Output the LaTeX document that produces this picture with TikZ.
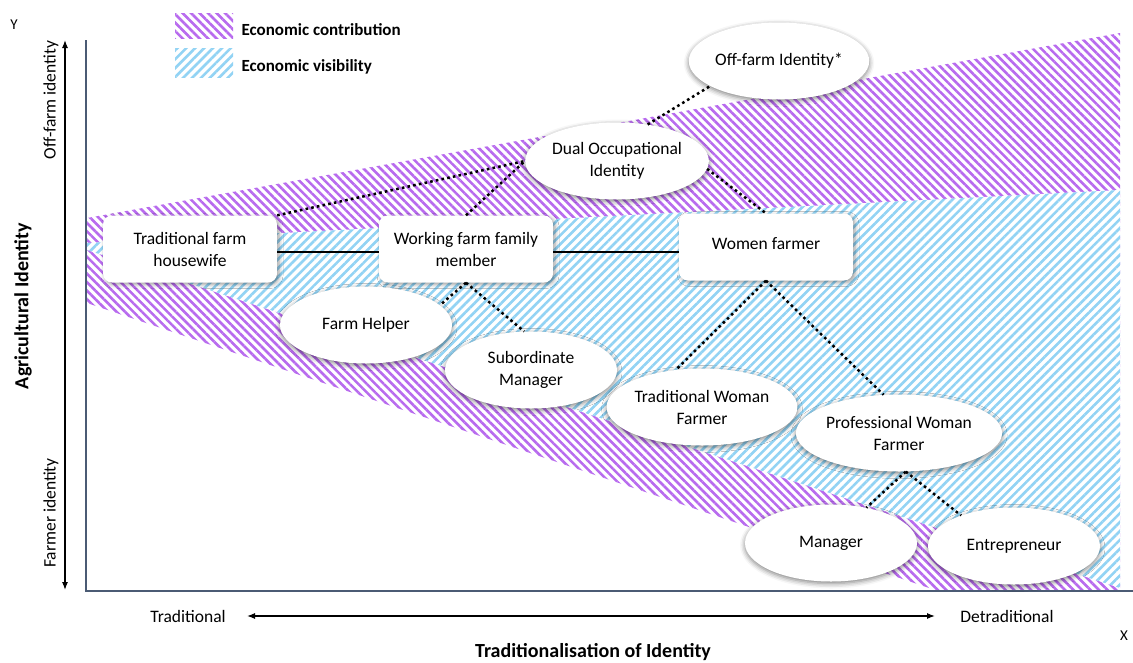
\documentclass[tikz,border=0pt]{standalone}
\usepackage{fontspec}
\setmainfont{Carlito}
\usepackage{xcolor}
\usepackage{tikz}
\usetikzlibrary{arrows.meta,positioning,shapes.geometric,patterns.meta,shadows.blur}

\definecolor{contrib}{HTML}{B86BEE}
\definecolor{visib}{HTML}{92D3F4}
\definecolor{axiscol}{HTML}{4B5B74}

\tikzset{
  contribfill/.style={pattern={Lines[angle=-45,distance=6pt,line width=2.6pt]}, pattern color=contrib},
  visibfill/.style={preaction={fill=white}, pattern={Lines[angle=45,distance=6.3pt,line width=2.6pt]}, pattern color=visib},
  wbox/.style={rectangle, rounded corners=9pt, fill=white, minimum width=174pt, minimum height=67pt,
    align=center, font=\fontsize{17.5}{22}\selectfont,
    blur shadow={shadow xshift=2pt, shadow yshift=-2pt, shadow blur radius=4pt, shadow opacity=40}},
  bubble/.style={ellipse, fill=white, minimum width=172pt, minimum height=77pt, inner sep=0pt,
    align=center, font=\fontsize{17.5}{22}\selectfont,
    blur shadow={shadow xshift=0pt, shadow yshift=-2pt, shadow blur radius=5pt, shadow opacity=50}},
  dotlink/.style={line width=2.5pt, dash pattern=on 2.6pt off 3.2pt},
  solidlink/.style={line width=1.3pt},
  axisline/.style={axiscol, line width=2.6pt},
  dirarrow/.style={{Latex[length=8pt,width=6pt]}-{Latex[length=8pt,width=6pt]}, line width=1.2pt},
  lab/.style={font=\fontsize{17.5}{20}\selectfont},
  boldlab/.style={font=\fontsize{20}{24}\selectfont\bfseries},
}

\begin{document}
\begin{tikzpicture}[x=1pt,y=-1pt]
\useasboundingbox (0,0) rectangle (1133,662);

% Bands
\path[contribfill] (87,218) -- (1120,33) -- (1120,590) -- (935,590) -- (87,303) -- cycle;
\path[visibfill] (87,243) -- (1120,190) -- (1120,588) -- (87,250) -- cycle;

% Legend
\path[contribfill] (175,13) rectangle (233,38);
\path[visibfill] (175,48) rectangle (233,77);
\node[font=\fontsize{17}{20}\selectfont\bfseries, anchor=west] (contriblab) at (238,30) {Economic contribution};
\node[font=\fontsize{17}{20}\selectfont\bfseries, anchor=west] (visiblab) at (238,67) {Economic visibility};

% Axes
\draw[axisline] (86,40) -- (86,591) -- (1133,591);
\node[font=\fontsize{15}{18}\selectfont] (ylab) at (14,25) {Y};
\node[font=\fontsize{15}{18}\selectfont] (xlab) at (1124,636) {X};

% Vertical direction
\coordinate (ytop) at (65,40);
\coordinate (ybot) at (65,590);
\draw[dirarrow] (ybot) -- (ytop);
\node[lab, rotate=90] (offlab) at (51,100) {Off-farm identity};
\node[lab, rotate=90] (farmlab) at (51,513) {Farmer identity};
\node[boldlab, rotate=90] (agrilab) at (23,306) {Agricultural Identity};

% Horizontal direction
\node[lab] (tradlab) at (188,616) {Traditional};
\node[lab] (detradlab) at (1007,616) {Detraditional};
\coordinate (xleft) at (247,616);
\coordinate (xright) at (935,616);
\draw[dirarrow] (xleft) -- (xright);
\node[boldlab] (tradtitle) at (593,652) {Traditionalisation of Identity};

% Identities
\node[wbox] (housewife) at (190,249) {Traditional farm\\housewife};
\node[wbox] (wffm) at (466,249) {Working farm family\\member};
\node[wbox] (women) at (766,247) {\raisebox{7pt}{Women farmer}};

\node[bubble] (off) at (779,61) {Off-farm Identity*};
\node[bubble] (dual) at (617,161) {Dual Occupational\\Identity};
\node[bubble] (helper) at (366,325) {Farm Helper};
\node[bubble] (sub) at (531,370) {Subordinate\\Manager};
\node[bubble] (twf) at (702,407) {Traditional Woman\\Farmer};
\node[bubble] (pwf) at (899,433) {Professional Woman\\Farmer};
\node[bubble] (man) at (831,543) {Manager};
\node[bubble] (ent) at (1014,546) {Entrepreneur};

% Links
\draw[solidlink] ([yshift=-3pt]housewife.east) -- ([yshift=-3pt]wffm.west);
\draw[solidlink] ([yshift=-3pt]wffm.east) -- ([yshift=-5pt]women.west);
\draw[dotlink] (housewife.north east) -- (dual.west);
\draw[dotlink] (wffm.north) -- (dual.west);
\draw[dotlink] (dual.50) -- (off.200);
\draw[dotlink] (dual.-5) -- (women.north);
\draw[dotlink] (wffm.south) -- (helper.15);
\draw[dotlink] (wffm.south) -- (sub.100);
\draw[dotlink] (women.south) -- (twf.125);
\draw[dotlink] (women.south) -- (pwf.112);
\draw[dotlink] (pwf.-80) -- (man.45);
\draw[dotlink] (pwf.-80) -- (ent.150);

\end{tikzpicture}
\end{document}
